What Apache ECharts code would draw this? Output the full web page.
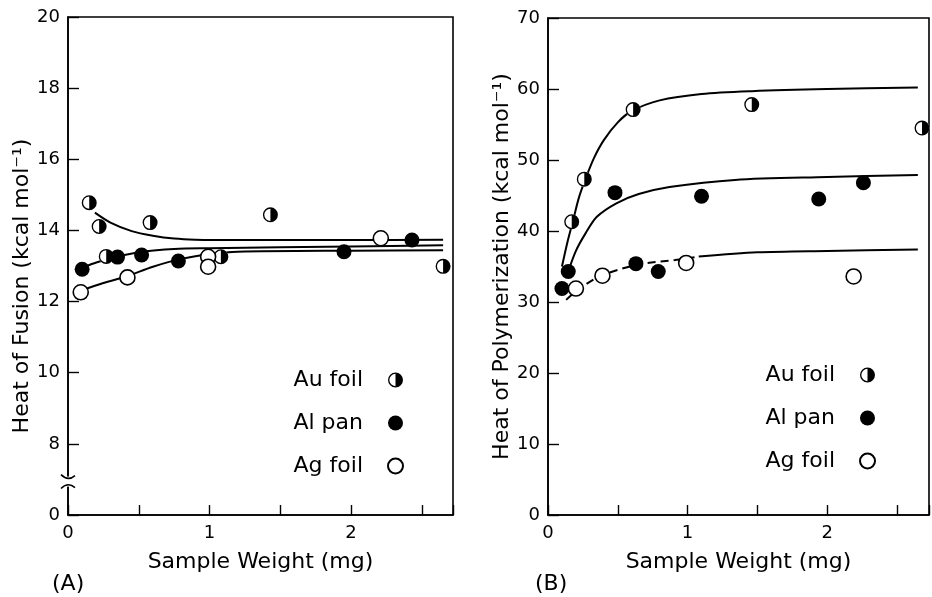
<!DOCTYPE html>
<html>
<head>
<meta charset="utf-8">
<script src="https://cdn.jsdelivr.net/npm/echarts@6/dist/echarts.min.js"></script>
<style>
  html, body { margin: 0; background: #fff; }
  #chart { width: 932px; height: 597px; }
</style>
</head>
<body>
<div id="chart"></div>
<script>
// ---- data ----
const names = ['Au foil', 'Al pan', 'Ag foil']

// (A) heat of fusion, kcal/mol vs sample weight, mg
const auFoilA = [[0.15, 14.78], [0.22, 14.11], [0.27, 13.27], [0.58, 14.22], [1.08, 13.26], [1.43, 14.44], [2.65, 12.99]]
const alPanA = [[0.10, 12.91], [0.35, 13.25], [0.52, 13.31], [0.78, 13.14], [1.95, 13.40], [2.43, 13.73]]
const agFoilA = [[0.09, 12.26], [0.42, 12.68], [0.99, 13.26], [0.99, 12.98], [2.21, 13.78]]
const auCurveA = [[0.19, 14.5], [0.3, 14.22], [0.45, 13.98], [0.6, 13.85], [0.75, 13.77], [0.9, 13.74], [1.2, 13.73], [2.0, 13.73], [2.65, 13.74]]
const alCurveA = [[0.12, 12.98], [0.2, 13.1], [0.35, 13.26], [0.52, 13.4], [0.75, 13.48], [1.0, 13.5], [2.0, 13.55], [2.65, 13.58]]
const agCurveA = [[0.1, 12.32], [0.25, 12.52], [0.42, 12.72], [0.6, 12.98], [0.8, 13.2], [1.0, 13.33], [1.2, 13.4], [2.0, 13.43], [2.65, 13.44]]

// (B) heat of polymerization
const auFoilB = [[0.17, 41.3], [0.26, 47.3], [0.61, 57.1], [1.46, 57.8], [2.68, 54.5]]
const alPanB = [[0.10, 31.9], [0.145, 34.3], [0.48, 45.4], [0.63, 35.4], [0.79, 34.3], [1.10, 44.9], [1.94, 44.5], [2.26, 46.8]]
const agFoilB = [[0.20, 31.9], [0.39, 33.7], [0.99, 35.5], [2.19, 33.6]]
const auCurveB = [[0.1, 35], [0.14, 38.5], [0.18, 41.5], [0.22, 44.6], [0.27, 47.4], [0.33, 50.3], [0.4, 52.8], [0.5, 55.3], [0.6, 56.9], [0.8, 58.4], [1.1, 59.3], [1.46, 59.7], [2.0, 60.0], [2.65, 60.2]]
const alCurveB = [[0.14, 34], [0.2, 37.2], [0.27, 39.7], [0.35, 42], [0.49, 43.9], [0.65, 45.2], [0.87, 46.2], [1.34, 47.2], [2.0, 47.6], [2.65, 47.9]]
const agCurveBDash = [[0.13, 30.3], [0.2, 31.5], [0.37, 33.6], [0.65, 35.3], [0.91, 35.9], [1.08, 36.4]]
const agCurveB = [[1.08, 36.4], [1.5, 37.0], [2.0, 37.2], [2.65, 37.4]]

// ---- styling ----
const FONT = 'DejaVu Sans'
const INK = '#000'
// ring with the right half filled (half-black circle)
const HALF = 'path://M0,-10A10,10 0 1,1 0,10A10,10 0 1,1 0,-10Z M0,-8.2A8.2,8.2 0 1,0 0,8.2A8.2,8.2 0 1,0 0,-8.2Z M0,-8.2A8.2,8.2 0 0,1 0,8.2Z'
const SYM = 15

const chart = echarts.init(document.getElementById('chart'))

const xAxisCfg = (gridIndex, max) => ({
  type: 'value',
  gridIndex,
  min: 0,
  max,
  interval: 0.5,
  name: 'Sample Weight (mg)',
  nameLocation: 'middle',
  nameGap: 36,
  nameTextStyle: { fontFamily: FONT, fontSize: 22, color: INK },
  axisLine: { lineStyle: { color: INK, width: 1.6 } },
  axisTick: { inside: true, length: 10, lineStyle: { color: INK, width: 1.4 } },
  axisLabel: {
    margin: 9,
    fontFamily: FONT,
    fontSize: 18,
    color: INK,
    formatter: (v) => (Number.isInteger(v) ? String(v) : ''),
  },
  splitLine: { show: false },
})

const yAxisCfg = (gridIndex, min, max, interval, name, gap, shift, fmt) => ({
  type: 'value',
  gridIndex,
  min,
  max,
  interval,
  name,
  nameLocation: 'middle',
  nameGap: gap,
  nameTextStyle: { fontFamily: FONT, fontSize: 22, color: INK, padding: [0, shift, 0, 0] },
  axisLine: { lineStyle: { color: INK, width: 1.6 } },
  axisTick: { show: true, inside: true, length: 11, lineStyle: { color: INK, width: 1.4 } },
  axisLabel: { margin: 8, fontFamily: FONT, fontSize: 18, color: INK, formatter: fmt },
  splitLine: { show: false },
})

const dots = (name, data, k, symbol, style) => ({
  name,
  type: 'scatter',
  xAxisIndex: k,
  yAxisIndex: k,
  data,
  symbol,
  symbolSize: SYM,
  itemStyle: Object.assign({ opacity: 1 }, style),
  emphasis: { disabled: true },
  z: 5,
})

const curve = (name, data, k, dashed) => ({
  name,
  type: 'line',
  xAxisIndex: k,
  yAxisIndex: k,
  data,
  smooth: 0.3,
  showSymbol: false,
  lineStyle: { color: INK, width: 2, type: dashed ? [8, 5] : 'solid' },
  z: 3,
  silent: true,
})

const panelSeries = (k, au, al, ag) => [
  dots('au-bg', au, k, 'circle', { color: '#fff' }),
  dots('Au foil', au, k, HALF, { color: INK }),
  dots('Al pan', al, k, 'circle', { color: INK }),
  dots('Ag foil', ag, k, 'circle', { color: '#fff', borderColor: INK, borderWidth: 1.6 }),
]

const legendCfg = (right, top) => ({
  data: names,
  orient: 'vertical',
  right,
  top,
  align: 'right',
  itemWidth: SYM,
  itemHeight: SYM,
  itemGap: 21,
  selectedMode: false,
  textStyle: {
    fontFamily: FONT,
    fontSize: 22,
    color: INK,
    width: 75,
    align: 'right',
    lineHeight: 22,
    padding: [0, 20, 0, 0],
  },
})

const option = {
  backgroundColor: '#fff',
  animation: false,
  grid: [
    { left: 68, top: 17, width: 385, height: 498, show: true, borderColor: INK, borderWidth: 1.6 },
    { left: 548, top: 18, width: 383, height: 497, show: true, borderColor: INK, borderWidth: 1.6 },
  ],
  xAxis: [xAxisCfg(0, 2.72), xAxisCfg(1, 2.73)],
  yAxis: [
    // the bottom tick stands for 0 across the axis break
    yAxisCfg(0, 6, 20, 2, 'Heat of Fusion (kcal mol\u207B\u00B9)', 30, 40, (v) => (v === 6 ? '0' : String(v))),
    yAxisCfg(1, 0, 70, 10, 'Heat of Polymerization (kcal mol\u207B\u00B9)', 31, 0),
  ],
  legend: [legendCfg(523, 364), legendCfg(51, 359)],
  series: [
    curve('au-fit-a', auCurveA, 0),
    curve('al-fit-a', alCurveA, 0),
    curve('ag-fit-a', agCurveA, 0),
    ...panelSeries(0, auFoilA, alPanA, agFoilA),
    curve('au-fit-b', auCurveB, 1),
    curve('al-fit-b', alCurveB, 1),
    curve('ag-fit-b-dash', agCurveBDash, 1, true),
    curve('ag-fit-b', agCurveB, 1),
    ...panelSeries(1, auFoilB, alPanB, agFoilB),
  ],
}
chart.setOption(option)

// axis break marks on panel A and the panel letters
const [ax, yHi] = chart.convertToPixel({ gridIndex: 0 }, [0, 7.08])
const yLo = chart.convertToPixel({ gridIndex: 0 }, [0, 6.8])[1]
const breakStyle = { stroke: INK, lineWidth: 1.6, fill: null }
chart.setOption({
  graphic: [
    { type: 'rect', shape: { x: ax - 3, y: yHi, width: 6, height: yLo - yHi }, style: { fill: '#fff' }, z: 10 },
    { type: 'bezierCurve', shape: { x1: ax - 7, y1: yHi - 2, x2: ax + 7, y2: yHi - 1, cpx1: ax, cpy1: yHi + 5 }, style: breakStyle, z: 11 },
    { type: 'bezierCurve', shape: { x1: ax - 7, y1: yLo + 2, x2: ax + 7, y2: yLo + 1, cpx1: ax, cpy1: yLo - 5 }, style: breakStyle, z: 11 },
    { type: 'text', left: 52, top: 573, style: { text: '(A)', fontFamily: FONT, fontSize: 22, fill: INK } },
    { type: 'text', left: 535, top: 573, style: { text: '(B)', fontFamily: FONT, fontSize: 22, fill: INK } },
  ],
})
</script>
</body>
</html>
